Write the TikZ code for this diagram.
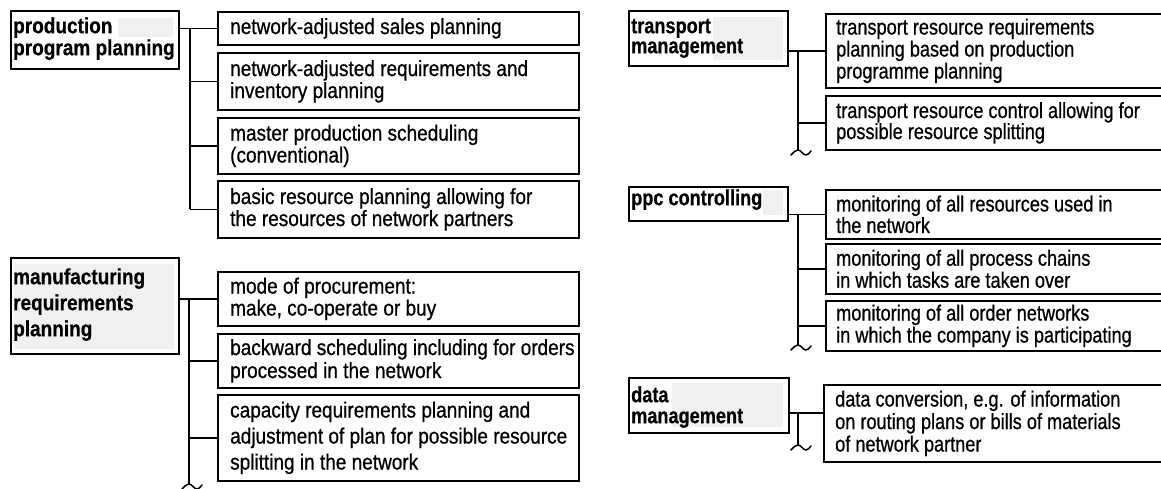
\documentclass[tikz,border=0pt]{standalone}
\usepackage{fontspec}
\setmainfont[FakeStretch=0.864, UprightFeatures={FakeBold=0.7}, BoldFeatures={FakeBold=0.5}]{Liberation Sans}
\newfontfamily\rfont[FakeStretch=0.825, UprightFeatures={FakeBold=0.7}, BoldFeatures={FakeBold=0.5}]{Liberation Sans}
\begin{document}
\begin{tikzpicture}[x=1pt,y=-1pt,
  box/.style={draw=black, line width=1.7pt, rectangle, inner sep=0pt, anchor=north west},
  ltxt/.style={inner sep=0pt, anchor=west, align=left, font=\fontsize{22}{22}\selectfont},
  rtxt/.style={inner sep=0pt, anchor=west, align=left, font=\rfont\fontsize{22}{22}\selectfont},
  htxt/.style={inner sep=0pt, anchor=north west, align=left, font=\fontsize{22}{22}\selectfont\bfseries},
  rhtxt/.style={inner sep=0pt, anchor=north west, align=left, font=\rfont\fontsize{22}{21}\selectfont\bfseries},
  patch/.style={fill=black!6},
  link/.style={draw=black, line width=1.5pt},
  wave/.pic={\draw[link, line cap=round] (-7,5) sin (0,0) cos (4,2.5) sin (8,5) cos (13,1);}
]
\useasboundingbox (0,0) rectangle (1161,489);
\clip (0,0) rectangle (1161,489);

% ---------- production program planning ----------
\node[box, minimum width=168, minimum height=58] (h1) at (10,10) {};
\fill[patch] (118,18) rectangle (173,37);
\node[htxt] (h1t) at ([xshift=3pt,yshift=-7pt]h1.north west) {\rule{0pt}{16pt}production\\program planning};

\node[box, minimum width=361, minimum height=33] (a1) at (217,11) {};
\node[box, minimum width=361, minimum height=57] (a2) at (217,52) {};
\node[box, minimum width=361, minimum height=56] (a3) at (217,117) {};
\node[box, minimum width=361, minimum height=57] (a4) at (217,180) {};
\node[ltxt] (a1t) at ([xshift=13pt]a1.west) {network-adjusted sales planning};
\node[ltxt] (a2t) at ([xshift=13pt]a2.west) {network-adjusted requirements and\\inventory planning};
\node[ltxt] (a3t) at ([xshift=13pt]a3.west) {master production scheduling\\(conventional)};
\node[ltxt] (a4t) at ([xshift=13pt]a4.west) {basic resource planning allowing for\\the resources of network partners};

\coordinate (s1) at (190,0);
\draw[link] (h1.east |- a1.west) -- (a1.west);
\draw[link] (s1 |- a1.west) -- (s1 |- a4.west);
\foreach \n in {a2,a3,a4} \draw[link] (s1 |- \n.west) -- (\n.west);

% ---------- manufacturing requirements planning ----------
\node[box, minimum width=168, minimum height=96] (h2) at (10,257) {};
\fill[patch] (14,264) rectangle (174,349);
\node[htxt, font=\fontsize{22}{26}\selectfont\bfseries] (h2t) at ([xshift=3pt,yshift=-11pt]h2.north west) {\rule{0pt}{16pt}manufacturing\\requirements\\planning};

\node[box, minimum width=361, minimum height=54] (b1) at (217,271) {};
\node[box, minimum width=361, minimum height=54] (b2) at (217,333) {};
\node[box, minimum width=361, minimum height=86] (b3) at (217,394) {};
\node[ltxt] (b1t) at ([xshift=13pt]b1.west) {mode of procurement:\\make, co-operate or buy};
\node[ltxt, font=\fontsize{22}{23}\selectfont] (b2t) at ([xshift=13pt]b2.west) {backward scheduling including for orders\\processed in the network};
\node[ltxt, font=\fontsize{22}{26}\selectfont] (b3t) at ([xshift=13pt]b3.west) {capacity requirements planning and\\adjustment of plan for possible resource\\splitting in the network};

\coordinate (s2) at (189,0);
\coordinate (w2) at (189,484);
\draw[link] (h2.east |- b1.west) -- (b1.west);
\draw[link] (s2 |- b1.west) -- (w2);
\foreach \n in {b2,b3} \draw[link] (s2 |- \n.west) -- (\n.west);
\pic at (w2) {wave};

% ---------- transport management ----------
\node[box, minimum width=159, minimum height=55] (h3) at (628,10) {};
\fill[patch] (713,17) rectangle (783,60);
\node[rhtxt, font=\rfont\fontsize{22}{20}\selectfont\bfseries] (h3t) at ([xshift=3pt,yshift=-7pt]h3.north west) {\rule{0pt}{16pt}transport\\management};

\node[box, minimum width=345, minimum height=74] (c1) at (825,13) {};
\node[box, minimum width=345, minimum height=54] (c2) at (825,95) {};
\node[rtxt] (c1t) at ([xshift=11pt]c1.west) {transport resource requirements\\planning based on production\\programme planning};
\node[rtxt, font=\rfont\fontsize{22}{21}\selectfont] (c2t) at ([xshift=11pt]c2.west) {transport resource control allowing for\\possible resource splitting};

\coordinate (s3) at (798,0);
\coordinate (w3) at (798,150);
\draw[link] (h3.east |- c1.west) -- (c1.west);
\draw[link] (s3 |- c1.west) -- (w3);
\draw[link] (s3 |- c2.west) -- (c2.west);
\pic at (w3) {wave};

% ---------- ppc controlling ----------
\node[box, minimum width=159, minimum height=34] (h4) at (628,186) {};
\fill[patch] (763,190) rectangle (783,215);
\node[rhtxt] (h4t) at ([xshift=3pt,yshift=-3pt]h4.north west) {\rule{0pt}{16pt}ppc controlling};

\node[box, minimum width=345, minimum height=49] (d1) at (825,189) {};
\node[box, minimum width=345, minimum height=50] (d2) at (825,243) {};
\node[box, minimum width=345, minimum height=50] (d3) at (825,300) {};
\node[rtxt, font=\rfont\fontsize{22}{20.5}\selectfont] (d1t) at ([xshift=11pt]d1.west) {monitoring of all resources used in\\the network};
\node[rtxt] (d2t) at ([xshift=11pt]d2.west) {monitoring of all process chains\\in which tasks are taken over};
\node[rtxt] (d3t) at ([xshift=11pt]d3.west) {monitoring of all order networks\\in which the company is participating};

\coordinate (w4) at (798,345);
\draw[link] (h4.east |- d1.west) -- (d1.west);
\draw[link] (s3 |- d1.west) -- (w4);
\foreach \n in {d2,d3} \draw[link] (s3 |- \n.west) -- (\n.west);
\pic at (w4) {wave};

% ---------- data management ----------
\node[box, minimum width=160, minimum height=55] (h5) at (628,377) {};
\fill[patch] (672,383) rectangle (783,427);
\node[rhtxt] (h5t) at ([xshift=3pt,yshift=-9pt]h5.north west) {\rule{0pt}{16pt}data\\management};

\node[box, minimum width=347, minimum height=77] (e1) at (823,384) {};
\node[rtxt, font=\rfont\fontsize{22}{22.5}\selectfont] (e1t) at ([xshift=12pt]e1.west) {data conversion, e.g. of information\\on routing plans or bills of materials\\of network partner};

\coordinate (e0) at (798,413);
\coordinate (w5) at (798,445);
\draw[link] (h5.east |- e0) -- (e1.west |- e0);
\draw[link] (e0) -- (w5);
\pic at (w5) {wave};
\end{tikzpicture}
\end{document}
